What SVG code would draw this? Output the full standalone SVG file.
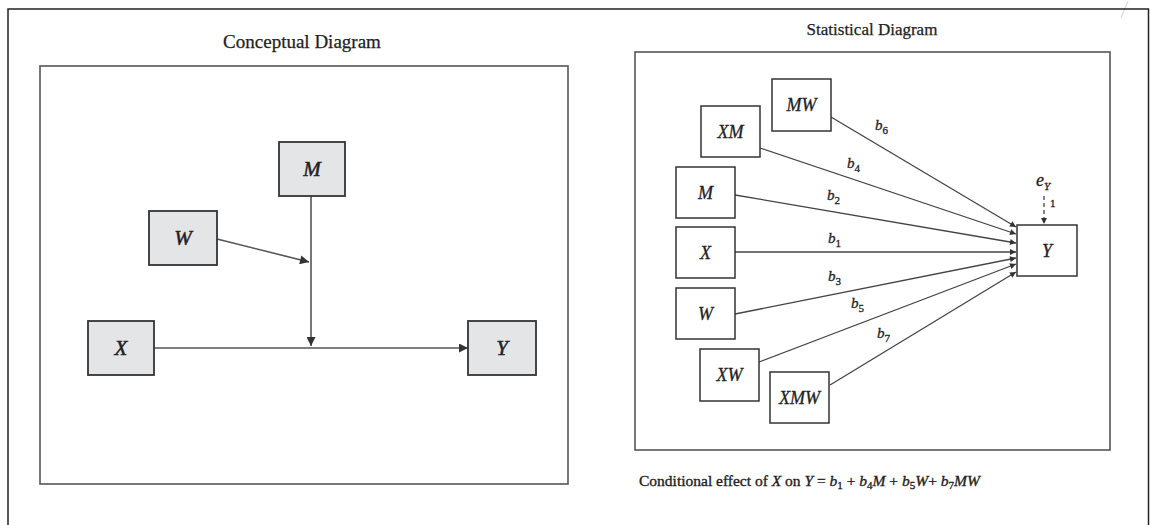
<svg xmlns="http://www.w3.org/2000/svg" width="1150" height="525" viewBox="0 0 1150 525">
<defs>
<style>
.frame{fill:none;stroke:#222;stroke-width:1.5}
.panel{fill:none;stroke:#555;stroke-width:1.6}
.cnode{fill:#e4e5e7;stroke:#333;stroke-width:1.8}
.snode{fill:#fff;stroke:#333;stroke-width:1.5}
.title{font-family:"Liberation Serif",serif;fill:#222;text-anchor:middle;stroke:#222;stroke-width:0.25}
.clab{font-family:"Liberation Serif",serif;font-style:italic;font-size:21px;fill:#222;stroke:#222;stroke-width:0.5;text-anchor:middle}
.slab{font-family:"Liberation Serif",serif;font-style:italic;font-size:18px;fill:#222;stroke:#222;stroke-width:0.3;text-anchor:middle}
.blab{font-family:"Liberation Serif",serif;font-style:italic;font-size:15px;fill:#222;stroke:#222;stroke-width:0.3}
.sub{font-style:normal;font-size:11px}
.cline{stroke:#555;stroke-width:1.6;fill:none}
.sline{stroke:#444;stroke-width:1.3;fill:none}
.formula{font-family:"Liberation Serif",serif;font-size:15.5px;fill:#222;stroke:#222;stroke-width:0.35}
.it{font-style:italic}
</style>
<marker id="ca" viewBox="0 0 10 10" refX="10" refY="5" markerWidth="10" markerHeight="9" markerUnits="userSpaceOnUse" orient="auto">
<path d="M0,0 L10,5 L0,10 z" fill="#333"/>
</marker>
<marker id="sa" viewBox="0 0 10 10" refX="10" refY="5" markerWidth="8" markerHeight="6" markerUnits="userSpaceOnUse" orient="auto">
<path d="M0,0 L10,5 L0,10 z" fill="#333"/>
</marker>
</defs>
<rect width="1150" height="525" fill="#fff"/>
<path d="M1128,1 L1121,18" stroke="#dcdcdc" stroke-width="1.2"/>
<path class="frame" d="M8,530 L8,9 L1148.5,9 L1148.5,530"/>
<g id="conceptual-panel">
<text class="title" x="302" y="48" font-size="19">Conceptual Diagram</text>
<rect class="panel" x="40" y="66" width="528" height="418"/>
</g>
<g id="statistical-panel">
<text class="title" x="872" y="35" font-size="17">Statistical Diagram</text>
<rect class="panel" x="635" y="52" width="475" height="398"/>
</g>
<g id="connectors">
<line class="cline" x1="311" y1="196" x2="311" y2="346" marker-end="url(#ca)"/>
<line class="cline" x1="217" y1="239" x2="309" y2="262" marker-end="url(#ca)"/>
<line class="cline" x1="154" y1="348" x2="468" y2="348" marker-end="url(#ca)"/>
<line class="sline" x1="831" y1="117" x2="1016" y2="227" marker-end="url(#sa)"/>
<line class="sline" x1="760" y1="148" x2="1016" y2="234" marker-end="url(#sa)"/>
<line class="sline" x1="735" y1="195" x2="1016" y2="243" marker-end="url(#sa)"/>
<line class="sline" x1="735" y1="252" x2="1016" y2="252" marker-end="url(#sa)"/>
<line class="sline" x1="735" y1="314" x2="1016" y2="258" marker-end="url(#sa)"/>
<line class="sline" x1="759" y1="362" x2="1016" y2="264" marker-end="url(#sa)"/>
<line class="sline" x1="830" y1="385" x2="1016" y2="272" marker-end="url(#sa)"/>
<line class="sline" x1="1044" y1="196" x2="1044" y2="224" stroke-dasharray="4,3" marker-end="url(#sa)"/>
<text class="blab" x="875" y="130">b<tspan class="sub" dy="4">6</tspan></text>
<text class="blab" x="847" y="168">b<tspan class="sub" dy="4">4</tspan></text>
<text class="blab" x="827" y="200">b<tspan class="sub" dy="4">2</tspan></text>
<text class="blab" x="828" y="243">b<tspan class="sub" dy="4">1</tspan></text>
<text class="blab" x="828" y="281">b<tspan class="sub" dy="4">3</tspan></text>
<text class="blab" x="851" y="308">b<tspan class="sub" dy="4">5</tspan></text>
<text class="blab" x="877" y="338">b<tspan class="sub" dy="4">7</tspan></text>
<text class="blab" x="1050" y="207" style="font-style:normal;font-size:11px">1</text>
</g>
<g id="c-M"><rect class="cnode" x="279" y="142" width="66" height="54"/><text class="clab" x="312" y="176">M</text></g>
<g id="c-W"><rect class="cnode" x="149" y="211" width="68" height="54"/><text class="clab" x="183" y="245">W</text></g>
<g id="c-X"><rect class="cnode" x="88" y="321" width="66" height="54"/><text class="clab" x="121" y="355">X</text></g>
<g id="c-Y"><rect class="cnode" x="468" y="321" width="68" height="54"/><text class="clab" x="502" y="355">Y</text></g>
<g id="s-MW"><rect class="snode" x="772" y="79" width="59" height="52"/><text class="slab" x="801.5" y="111">MW</text></g>
<g id="s-XM"><rect class="snode" x="701" y="106" width="59" height="51"/><text class="slab" x="730.5" y="138">XM</text></g>
<g id="s-M"><rect class="snode" x="676" y="167" width="59" height="51"/><text class="slab" x="705.5" y="199">M</text></g>
<g id="s-X"><rect class="snode" x="676" y="227" width="59" height="51"/><text class="slab" x="705.5" y="259">X</text></g>
<g id="s-W"><rect class="snode" x="676" y="288" width="59" height="51"/><text class="slab" x="705.5" y="320">W</text></g>
<g id="s-XW"><rect class="snode" x="700" y="349" width="59" height="52"/><text class="slab" x="729.5" y="381">XW</text></g>
<g id="s-XMW"><rect class="snode" x="770" y="372" width="59" height="51"/><text class="slab" x="799.5" y="404">XMW</text></g>
<g id="s-Y"><rect class="snode" x="1017" y="225" width="60" height="51"/><text class="slab" x="1047" y="257">Y</text></g>
<g id="s-eY"><text class="blab" x="1036" y="186" style="font-size:18px">e<tspan dy="4" style="font-style:italic;font-size:11px">Y</tspan></text></g>
<g id="formula">
<text class="formula" x="639" y="486">Conditional effect of <tspan class="it">X</tspan> on <tspan class="it">Y</tspan> = <tspan class="it">b</tspan><tspan font-size="11" dy="3">1</tspan><tspan dy="-3"> + </tspan><tspan class="it">b</tspan><tspan font-size="11" dy="3">4</tspan><tspan class="it" dy="-3">M</tspan> + <tspan class="it">b</tspan><tspan font-size="11" dy="3">5</tspan><tspan class="it" dy="-3">W</tspan>+ <tspan class="it">b</tspan><tspan font-size="11" dy="3">7</tspan><tspan class="it" dy="-3">MW</tspan></text>
</g>
</svg>
